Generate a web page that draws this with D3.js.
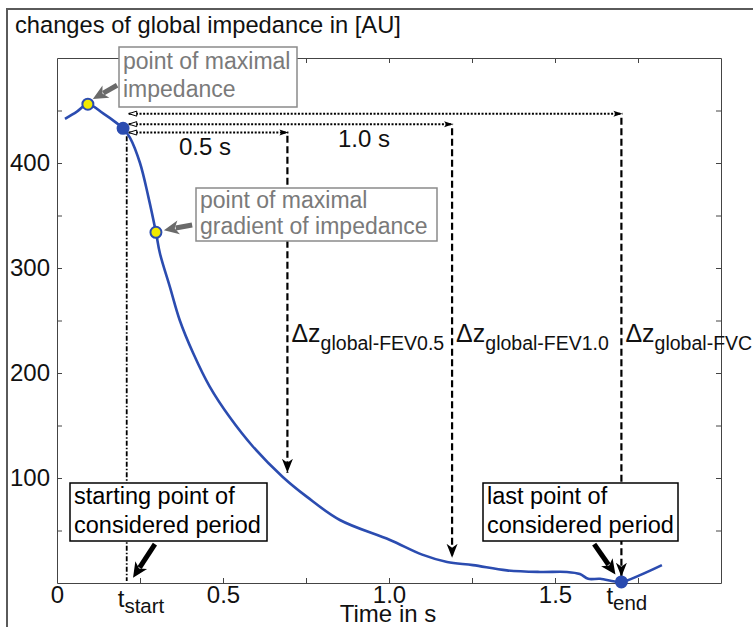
<!DOCTYPE html>
<html>
<head>
<meta charset="utf-8">
<script src="https://cdn.jsdelivr.net/npm/d3@7"></script>
<style>
  body { margin: 0; background: #fff; }
  svg { display: block; font-family: "Liberation Sans", Arial, sans-serif; }
</style>
</head>
<body>
<div id="chart"></div>
<script>
// impedance curve (time in s, impedance in AU)
const timeS = [0.024, 0.06, 0.093, 0.14, 0.18, 0.199, 0.22, 0.25, 0.275, 0.298, 0.31, 0.34, 0.37, 0.41, 0.46, 0.52, 0.59, 0.68, 0.753, 0.852, 1.003, 1.10, 1.175, 1.253, 1.355, 1.455, 1.536, 1.575, 1.60, 1.636, 1.70, 1.756, 1.822];
const impedance = [442, 449, 456, 447, 438, 433, 424, 400, 368, 334, 314, 282, 250, 219, 187, 158, 130, 101, 82, 60, 41, 27, 20, 17, 12, 10.5, 10.5, 8.5, 4, 4, 1, 7.5, 17];

// special points: max impedance, t_start, max gradient, t_end
const keyTime = [0.093, 0.199, 0.298, 1.70];
const keyImp = [456, 433, 334, 1];
const keyFill = ["#f2ea00", "#2b4cb0", "#f2ea00", "#2b4cb0"];

// interval arrows (0.5 s, 1.0 s, FVC)
const startTime = 0.21;
const endTime = [0.694, 1.19, 1.70];
const rowImp = [429, 437, 447];
const dropTopImp = [426, 433, 443];
const dropTipImp = [105, 24, 6];
const dropSub = ["global-FEV0.5", "global-FEV1.0", "global-FVC"];

const xTicks = [0, 0.25, 0.5, 0.75, 1.0, 1.25, 1.5, 1.75];
const xLabels = { 0: "0", 0.5: "0.5", 1: "1.0", 1.5: "1.5" };
const yTicks = [50, 100, 150, 200, 250, 300, 350, 400, 450];
const yLabels = [100, 200, 300, 400];

const W = 753, H = 627;
const margin = { top: 58, right: 32, bottom: 44, left: 57 };

const x = d3.scaleLinear().domain([0, 2]).range([margin.left, W - margin.right]);
const y = d3.scaleLinear().domain([0, 500]).range([H - margin.bottom, margin.top]);

const svg = d3.select("#chart").append("svg")
  .attr("width", W).attr("height", H);

const defs = svg.append("defs");
defs.append("marker").attr("id", "dotHead")
  .attr("markerUnits", "userSpaceOnUse").attr("markerWidth", 12).attr("markerHeight", 10)
  .attr("viewBox", "0 -5 12 10").attr("refX", 10).attr("refY", 0).attr("orient", "auto")
  .append("path").attr("d", "M1,-3L10,0L1,3L3,0Z").attr("fill", "#000");
defs.append("marker").attr("id", "openHead")
  .attr("markerUnits", "userSpaceOnUse").attr("markerWidth", 12).attr("markerHeight", 10)
  .attr("viewBox", "0 -5 12 10").attr("refX", 9).attr("refY", 0).attr("orient", "auto-start-reverse")
  .append("path").attr("d", "M1,-2.5L9,0L1,2.5Z").attr("fill", "#fff").attr("stroke", "#000").attr("stroke-width", 1);
defs.append("marker").attr("id", "dashHead")
  .attr("markerUnits", "userSpaceOnUse").attr("markerWidth", 16).attr("markerHeight", 14)
  .attr("viewBox", "0 -7 16 14").attr("refX", 14).attr("refY", 0).attr("orient", "auto")
  .append("path").attr("d", "M0,-5.5L14,0L0,5.5L4,0Z").attr("fill", "#000");

// outer frame of the figure
svg.append("path")
  .attr("d", "M7," + H + "V9H" + W)
  .attr("fill", "none").attr("stroke", "#5a5a5a").attr("stroke-width", 2);

svg.append("text")
  .attr("x", 15).attr("y", 33)
  .attr("font-size", 23.7).attr("fill", "#111")
  .text("changes of global impedance in [AU]");

// axes, ticks inside on all four sides
const axisCol = "#444";
function styleAxis(g) {
  g.selectAll("path.domain").attr("stroke", axisCol);
  g.selectAll(".tick line").attr("stroke", axisCol);
  g.selectAll("text").attr("font-size", 24).attr("fill", "#111")
    .attr("font-family", "\"Liberation Sans\", Arial, sans-serif");
}
svg.append("g").attr("transform", "translate(0," + y(0) + ")")
  .call(d3.axisBottom(x).tickValues(xTicks).tickSizeInner(-5).tickSizeOuter(0).tickPadding(3)
    .tickFormat(d => xLabels[d] || ""))
  .call(styleAxis);
svg.append("g").attr("transform", "translate(0," + y(500) + ")")
  .call(d3.axisTop(x).tickValues(xTicks.slice(1)).tickSizeInner(-5).tickSizeOuter(0).tickFormat(""))
  .call(styleAxis);
svg.append("g").attr("transform", "translate(" + x(0) + ",0)")
  .call(d3.axisLeft(y).tickValues(yTicks).tickSizeInner(-5).tickSizeOuter(0).tickPadding(7)
    .tickFormat(d => yLabels.includes(d) ? d : ""))
  .call(styleAxis);
svg.append("g").attr("transform", "translate(" + x(2) + ",0)")
  .call(d3.axisRight(y).tickValues(yTicks).tickSizeInner(-5).tickSizeOuter(0).tickFormat(""))
  .call(styleAxis);

svg.append("text")
  .attr("x", 388).attr("y", 622).attr("text-anchor", "middle")
  .attr("font-size", 24).attr("fill", "#111")
  .text("Time in s");

// t_start / t_end labels
function subLabel(px, py, main, sub, mainSize, subSize, shift) {
  const t = svg.append("text").attr("x", px).attr("y", py).attr("fill", "#111");
  t.append("tspan").attr("font-size", mainSize).text(main);
  t.append("tspan").attr("font-size", subSize).attr("dy", shift).text(sub);
  return t;
}
subLabel(x(startTime) - 9, 607, "t", "start", 24, 20.5, 6);
subLabel(x(keyTime[3]) - 15, 604, "t", "end", 24, 20.5, 6);

// t_start vertical line (dash-dot)
svg.append("line")
  .attr("x1", x(startTime)).attr("x2", x(startTime))
  .attr("y1", y(keyImp[1]) + 8).attr("y2", y(0) - 2)
  .attr("stroke", "#000").attr("stroke-width", 1.8)
  .attr("stroke-dasharray", "5,2,1.5,2");

// dotted horizontal double arrows
svg.selectAll("line.span").data(endTime).enter().append("line")
  .attr("class", "span")
  .attr("x1", x(startTime) + 2).attr("x2", d => x(d) + 1)
  .attr("y1", (d, i) => y(rowImp[i])).attr("y2", (d, i) => y(rowImp[i]))
  .attr("stroke", "#000").attr("stroke-width", 2)
  .attr("stroke-dasharray", "2,1.6")
  .attr("marker-start", "url(#openHead)")
  .attr("marker-end", "url(#dotHead)");

// dashed vertical drop arrows
svg.selectAll("line.drop").data(endTime).enter().append("line")
  .attr("class", "drop")
  .attr("x1", d => x(d)).attr("x2", d => x(d))
  .attr("y1", (d, i) => y(dropTopImp[i])).attr("y2", (d, i) => y(dropTipImp[i]))
  .attr("stroke", "#000").attr("stroke-width", 2.2)
  .attr("stroke-dasharray", "7,3.5")
  .attr("marker-end", "url(#dashHead)");

endTime.forEach((d, i) => {
  const t = svg.append("text").attr("x", x(d) + 4).attr("y", 342).attr("fill", "#111");
  t.append("tspan").attr("font-size", 25).text("\u0394z");
  t.append("tspan").attr("font-size", 19.5).attr("dy", 8).text(dropSub[i]);
});

svg.append("text").attr("x", 205).attr("y", 155).attr("text-anchor", "middle")
  .attr("font-size", 24).attr("fill", "#111").text("0.5 s");
svg.append("text").attr("x", 364).attr("y", 147).attr("text-anchor", "middle")
  .attr("font-size", 24).attr("fill", "#111").text("1.0 s");

// impedance curve
const line = d3.line()
  .x((d, i) => x(timeS[i]))
  .y(d => y(d))
  .curve(d3.curveCatmullRom.alpha(0.5));
svg.append("path")
  .datum(impedance)
  .attr("d", line)
  .attr("fill", "none")
  .attr("stroke", "#2b4cb0")
  .attr("stroke-width", 2.6);

svg.selectAll("circle.key").data(keyTime).enter().append("circle")
  .attr("class", "key")
  .attr("cx", d => x(d)).attr("cy", (d, i) => y(keyImp[i]))
  .attr("r", 5.5)
  .attr("fill", (d, i) => keyFill[i])
  .attr("stroke", "#2b4cb0").attr("stroke-width", 2);

// thick arrows from annotation boxes
function fatArrow(t1, v1, t2, v2, col) {
  const x1 = x(t1), y1 = y(v1), x2 = x(t2), y2 = y(v2);
  const L = Math.hypot(x2 - x1, y2 - y1), ux = (x2 - x1) / L, uy = (y2 - y1) / L;
  const hl = 15, hw = 7;
  const bx = x2 - ux * hl, by = y2 - uy * hl;
  svg.append("line")
    .attr("x1", x1).attr("y1", y1).attr("x2", bx + ux * 3).attr("y2", by + uy * 3)
    .attr("stroke", col).attr("stroke-width", 5);
  svg.append("path")
    .attr("d", "M" + x2 + "," + y2 +
      "L" + (bx - uy * hw) + "," + (by + ux * hw) +
      "L" + (bx + ux * 4) + "," + (by + uy * 4) +
      "L" + (bx + uy * hw) + "," + (by - ux * hw) + "Z")
    .attr("fill", col);
}
fatArrow(0.181, 474, 0.108, 461, "#6a6a6a");
fatArrow(0.407, 341, 0.322, 336, "#6a6a6a");
fatArrow(0.295, 37, 0.229, 5, "#000");
fatArrow(1.618, 37, 1.682, 8, "#000");

// annotation boxes
function box(bx, by, bw, bh, lines, col, size, lead) {
  svg.append("rect")
    .attr("x", bx).attr("y", by).attr("width", bw).attr("height", bh)
    .attr("fill", "#fff").attr("stroke", col === "#000" ? "#000" : "#8a8a8a").attr("stroke-width", 1.5);
  lines.forEach((s, i) => {
    svg.append("text")
      .attr("x", bx + 4).attr("y", by + lead[i])
      .attr("font-size", size).attr("fill", col)
      .text(s);
  });
}
box(119, 47, 178, 60, ["point of maximal", "impedance"], "#7a7a7a", 23, [22, 50]);
box(196, 188, 241, 53, ["point of maximal", "gradient of impedance"], "#7a7a7a", 23, [20, 46]);
box(70, 483, 197, 58, ["starting point of", "considered period"], "#000", 23.5, [21, 50]);
box(483, 483, 195, 58, ["last point of", "considered period"], "#000", 23.5, [21, 50]);
</script>
</body>
</html>
